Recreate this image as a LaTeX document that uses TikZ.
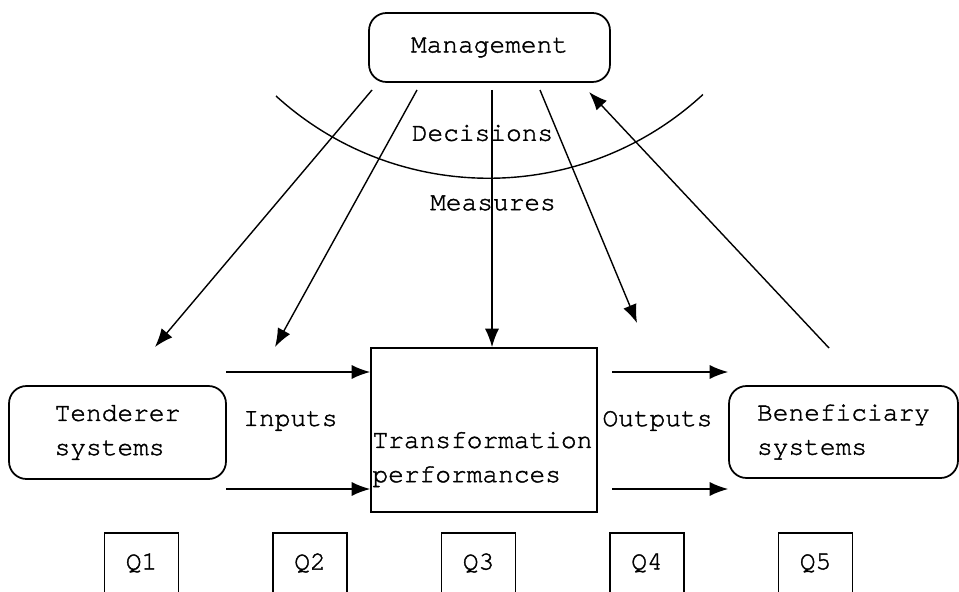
\documentclass[tikz,border=0pt]{standalone}
\usepackage{fontspec}
\setmainfont[Ligatures=NoCommon, FakeBold=1.5]{TeX Gyre Cursor}
\usetikzlibrary{arrows.meta, positioning}

\begin{document}
\begin{tikzpicture}[x=0.02cm, y=0.02cm,
        font=\fontsize{14.9}{19.5}\selectfont,
        sysbox/.style={draw, line width=1pt, rounded corners=0.35cm, inner sep=0pt, align=left},
        flow/.style={line width=0.8pt, -{Latex[length=10.5pt,width=8pt]}},
        qbox/.style={draw, line width=1pt, minimum width=1.48cm, minimum height=1.2cm, inner sep=0pt}]
        \useasboundingbox (0,0) rectangle (959,-591);

        \node[sysbox, minimum width=4.82cm, minimum height=1.38cm] (mgmt) at (489.5,-47.5) {Management};
        \node[sysbox, minimum width=4.34cm, minimum height=1.86cm] (ten)  at (117.5,-432.5) {Tenderer\\systems};
        \node[draw, line width=1pt, minimum width=4.52cm, minimum height=3.28cm] (trans) at (484,-430) {};
        \node[align=left, anchor=west, inner sep=0pt] (translbl) at ([xshift=0.04cm, yshift=-0.59cm]trans.west) {Transformation\\performances};
        \node[sysbox, minimum width=4.58cm, minimum height=1.84cm] (ben)  at (843.5,-432) {Beneficiary\\systems};

        \foreach \i in {1,...,5}
            \node[qbox] (q\i) at ({141.5+168.5*(\i-1)},-563) {Q\i};

        % decisions / measures
        \draw[line width=0.8pt] (276,-96) arc[start angle=-132.3, end angle=-47.3, radius=316];
        \node (dec) at (482.5,-133) {Decisions};
        \node (meas) at (493,-203) {Measures};

        \coordinate (m1) at (372,-90);
        \coordinate (m2) at (417,-90);
        \coordinate (m3) at (492,-90);
        \coordinate (m4) at (540,-90);
        \coordinate (m5) at (589,-92);
        \coordinate (t1) at (155,-347);
        \coordinate (t2) at (275,-347);
        \coordinate (t4) at (637,-323);
        \coordinate (fb) at (829,-348);

        \draw[flow] (m1) -- (t1);
        \draw[flow] (m2) -- (t2);
        \draw[flow] (m3) -- (m3 |- trans.north);
        \draw[flow] (m4) -- (t4);
        \draw[flow] (fb) -- (m5);

        % inputs / outputs
        \coordinate (in1)  at (226,-372);
        \coordinate (in2)  at (226,-489);
        \coordinate (out1) at (612,-372);
        \coordinate (out2) at (612,-489);
        \draw[flow] (in1) -- (in1 -| trans.west);
        \draw[flow] (in2) -- (in2 -| trans.west);
        \draw[flow] (out1) -- (out1 -| ben.west);
        \draw[flow] (out2) -- (out2 -| ben.west);
        \node (inp)  at (290.5,-421) {Inputs};
        \node (outp) at (657.5,-421) {Outputs};
    \end{tikzpicture}
\end{document}
